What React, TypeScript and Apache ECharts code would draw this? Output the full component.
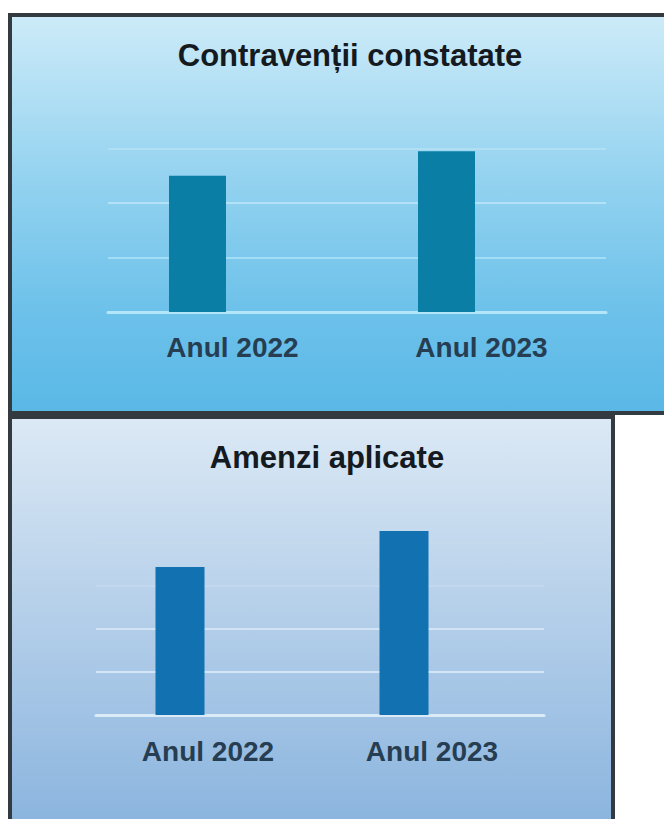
import React, { useEffect, useRef } from "react";
import * as echarts from "echarts";

const categories = ["Anul 2022", "Anul 2023"];
const contraventiiValues = [2500, 2950];
const amenziValues = [3440, 4280];
const titleTop = "Contravenții constatate";
const titleBottom = "Amenzi aplicate";

const FONT = "'Liberation Sans', Arial, sans-serif";

export default function App() {
  const ref = useRef<HTMLDivElement>(null);
  useEffect(() => {
    if (!ref.current) return;
    document.body.style.margin = "0";
    const chart = echarts.init(ref.current, undefined, { renderer: "svg" });
    const labelStyle = {
      fontFamily: FONT,
      fontWeight: "bold",
      fontSize: 28,
      color: "#263d52",
    };
    const option: any = {
      animation: false,
      backgroundColor: "#ffffff",
      title: [
        {
          text: titleTop,
          left: 345,
          top: 35,
          textAlign: "center",
          textStyle: { fontFamily: FONT, fontWeight: "bold", fontSize: 31, color: "#141a1f" },
        },
        {
          text: titleBottom,
          left: 322,
          top: 437,
          textAlign: "center",
          textStyle: { fontFamily: FONT, fontWeight: "bold", fontSize: 31, color: "#141a1f" },
        },
      ],
      graphic: [
        {
          type: "rect",
          z: -100,
          shape: { x: 10, y: 15, width: 700, height: 398 },
          style: {
            fill: new echarts.graphic.LinearGradient(0, 0, 0, 1, [
              { offset: 0, color: "#cdebf8" },
              { offset: 0.4, color: "#95d3f0" },
              { offset: 0.75, color: "#6cc1ea" },
              { offset: 1, color: "#5ab8e6" },
            ]),
          },
        },
        {
          type: "rect",
          z: -100,
          shape: { x: 10, y: 417, width: 603, height: 410 },
          style: {
            fill: new echarts.graphic.LinearGradient(0, 0, 0, 1, [
              { offset: 0, color: "#dce9f5" },
              { offset: 0.5, color: "#b3cee9" },
              { offset: 1, color: "#8ab4de" },
            ]),
          },
        },
        {
          type: "rect",
          z: 100,
          shape: { x: 10, y: 15, width: 700, height: 398 },
          style: { fill: "none", stroke: "#333a40", lineWidth: 4 },
        },
        {
          type: "rect",
          z: 100,
          shape: { x: 10, y: 417, width: 603, height: 410 },
          style: { fill: "none", stroke: "#333a40", lineWidth: 4 },
        },
      ],
      grid: [
        { left: 108, right: 58, top: 148.5, height: 163.5 },
        { left: 73, right: 93, top: 148.5, height: 163.5 },
        { left: 96, right: 120, top: 500, height: 215 },
        { left: 68, right: 148, top: 500, height: 215 },
      ],
      xAxis: [
        {
          type: "category",
          gridIndex: 0,
          data: categories,
          axisLine: { lineStyle: { color: "#b4e6fa", width: 3 } },
          axisTick: { show: false },
          axisLabel: { ...labelStyle, margin: 21 },
        },
        { type: "category", gridIndex: 1, data: categories, show: false },
        {
          type: "category",
          gridIndex: 2,
          data: categories,
          axisLine: { lineStyle: { color: "#dbeaf7", width: 3 } },
          axisTick: { show: false },
          axisLabel: { ...labelStyle, margin: 22 },
        },
        { type: "category", gridIndex: 3, data: categories, show: false },
      ],
      yAxis: [
        {
          type: "value",
          gridIndex: 0,
          min: 0,
          max: 3000,
          interval: 1000,
          axisLabel: { show: false },
          axisLine: { show: false },
          axisTick: { show: false },
          splitLine: {
            lineStyle: {
              width: 2,
              color: ["rgba(190,235,252,0.9)", "rgba(175,228,250,0.75)", "rgba(200,236,250,0.65)", "rgba(220,242,252,0.3)"],
            },
          },
        },
        { type: "value", gridIndex: 1, min: 0, max: 3000, interval: 1000, show: false, splitLine: { show: false } },
        {
          type: "value",
          gridIndex: 2,
          min: 0,
          max: 5000,
          interval: 1000,
          axisLabel: { show: false },
          axisLine: { show: false },
          axisTick: { show: false },
          splitLine: {
            lineStyle: {
              width: 2,
              color: [
                "rgba(225,238,250,0.9)",
                "rgba(218,234,248,0.85)",
                "rgba(222,236,249,0.7)",
                "rgba(230,240,250,0.2)",
                "rgba(230,240,250,0.1)",
                "rgba(230,240,250,0.0)",
              ],
            },
          },
        },
        { type: "value", gridIndex: 3, min: 0, max: 5000, interval: 1000, show: false, splitLine: { show: false } },
      ],
      series: [
        {
          type: "bar",
          xAxisIndex: 1,
          yAxisIndex: 1,
          data: contraventiiValues,
          barWidth: 57,
          itemStyle: { color: "#0a7ea5" },
        },
        {
          type: "bar",
          xAxisIndex: 3,
          yAxisIndex: 3,
          data: amenziValues,
          barWidth: 49,
          itemStyle: { color: "#1271b0" },
        },
      ],
    };
    chart.setOption(option);
    return () => chart.dispose();
  }, []);
  return (
    <div
      ref={ref}
      style={{ position: "absolute", left: 0, top: 0, width: 664, height: 819 }}
    />
  );
}
